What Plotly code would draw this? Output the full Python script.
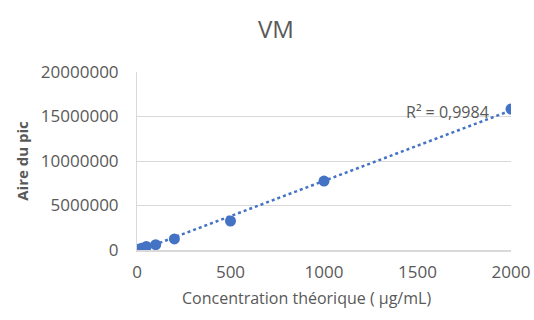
import numpy as np
import plotly.graph_objects as go

conc = [5, 10, 25, 50, 100, 200, 500, 1000, 2000]
area = [40000, 90000, 210000, 400000, 600000, 1240000, 3260000, 7750000, 15840000]
x_ticks = [0, 500, 1000, 1500, 2000]
y_ticks = [0, 5000000, 10000000, 15000000, 20000000]
r2_label = "R² = 0,9984"
x_title = "Concentration théorique ( µg/mL)"

slope, intercept = np.polyfit(conc, area, 1)
tx = np.array([0, 2000])
ty = slope * tx + intercept

blue = "#4472C4"
grey = "#595959"
font = "Open Sans, Lato, sans-serif"

fig = go.Figure()
fig.add_trace(go.Scatter(x=tx, y=ty, mode="lines",
                         line=dict(color=blue, width=2.5, dash="dot"),
                         showlegend=False, hoverinfo="skip"))
fig.add_trace(go.Scatter(x=conc, y=area, mode="markers",
                         marker=dict(color=blue, size=11),
                         showlegend=False))
fig.add_annotation(x=1893, y=15500000, text=r2_label, showarrow=False,
                   xanchor="right", yanchor="middle",
                   font=dict(family=font, size=16, color=grey))
fig.add_annotation(x=0.4545, y=-0.27, xref="paper", yref="paper",
                   text=x_title, showarrow=False,
                   xanchor="center", yanchor="middle",
                   font=dict(family=font, size=16, color=grey))

fig.update_layout(
    width=534, height=320, autosize=False,
    margin=dict(l=137, r=23, t=72, b=70, autoexpand=False),
    paper_bgcolor="white", plot_bgcolor="white",
    title=dict(text="VM", x=276 / 534, xanchor="center", xref="container",
               y=1 - 30 / 320, yanchor="middle",
               font=dict(family=font, size=24, color=grey)),
    font=dict(family=font, color=grey),
)
fig.update_xaxes(range=[0, 2000], tickvals=x_ticks, showgrid=False,
                 showline=True, linecolor="#D9D9D9", linewidth=1.5,
                 zeroline=False, ticks="", ticklabelstandoff=6, automargin=False,
                 tickfont=dict(family=font, size=17, color=grey))
fig.update_yaxes(range=[0, 20000000], tickvals=y_ticks, tickformat="d",
                 showgrid=True, gridcolor="#D9D9D9", gridwidth=1,
                 showline=True, linecolor="#D9D9D9", zeroline=False, ticks="",
                 ticklabelstandoff=14, automargin=False,
                 tickfont=dict(family=font, size=17, color=grey),
                 title=dict(text="<b>Aire du pic</b>",
                            font=dict(family=font, size=15, color=grey), standoff=8))

fig.write_html("out.html",
               config={"displayModeBar": False, "responsive": False},
               post_script="document.body.style.margin='0';document.body.style.overflow='hidden';")
